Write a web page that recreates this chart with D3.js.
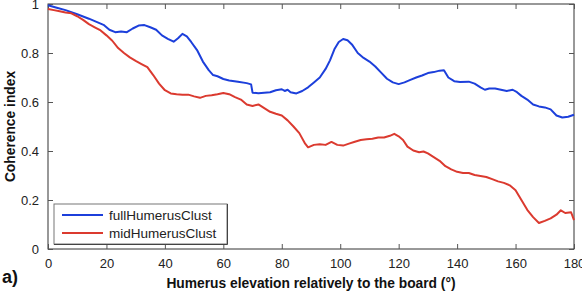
<!DOCTYPE html>
<html><head><meta charset="utf-8">
<script src="https://cdn.jsdelivr.net/npm/d3@7"></script>
<style>body{margin:0;background:#fff}svg{display:block}</style>
</head><body>
<script>
const fullX = [0,3,6,10,14,17,19,21,23,25,27,29,31,33,35,37,39,41,43,44.5,46,47.5,49,51,53,55,56.5,58,60,62,65,68,69.5,70,72,74,76,78,80,81,82,83,85,87,89,91,93,95,96.5,98,99.5,101,102.5,104,106,108,110,112,114,116,118,120,122,124,126,128,130,132,134,135.5,137,139,141,144,146,148,149.5,151,153,155,157,159,160.5,162,164,166,168,170,172,174,176,178,180];
const fullY = [0.995,0.985,0.975,0.958,0.94,0.925,0.915,0.895,0.885,0.888,0.885,0.9,0.912,0.914,0.905,0.895,0.872,0.858,0.846,0.86,0.878,0.868,0.845,0.812,0.765,0.73,0.71,0.705,0.694,0.688,0.683,0.677,0.672,0.638,0.636,0.638,0.64,0.648,0.652,0.645,0.65,0.64,0.635,0.645,0.66,0.68,0.7,0.735,0.77,0.815,0.845,0.857,0.852,0.835,0.8,0.78,0.765,0.745,0.72,0.695,0.68,0.673,0.68,0.69,0.7,0.708,0.718,0.722,0.728,0.73,0.7,0.685,0.682,0.683,0.675,0.66,0.65,0.655,0.655,0.65,0.645,0.65,0.64,0.625,0.61,0.59,0.582,0.578,0.57,0.545,0.537,0.54,0.548];
const midX = [0,2,4,6,8,10,12,14,16,18,20,22,24,26,28,30,32,34,36,38,40,42,44,46,48,50,52,54,56,58,60,62,64,66,68,70,72,74,76,78,80,82,84,86,88,89,91,93,95,97,99,101,103,105,107,109,111,113,115,117,118.5,120,121.5,123,125,127,128.5,130,132,134,136,138,140,142,144,146,148,150,152,154,156,158,160,162,164,166,168,170,172,174,175.5,177,179,180];
const midY = [0.98,0.975,0.97,0.965,0.962,0.95,0.935,0.918,0.905,0.892,0.872,0.85,0.82,0.8,0.782,0.768,0.755,0.742,0.71,0.675,0.648,0.635,0.632,0.63,0.63,0.623,0.617,0.625,0.628,0.632,0.637,0.632,0.62,0.61,0.59,0.584,0.59,0.575,0.56,0.552,0.545,0.525,0.5,0.473,0.43,0.415,0.425,0.428,0.425,0.437,0.425,0.422,0.43,0.438,0.445,0.448,0.45,0.455,0.455,0.462,0.47,0.46,0.445,0.418,0.402,0.395,0.398,0.39,0.375,0.36,0.338,0.325,0.315,0.31,0.31,0.302,0.298,0.294,0.285,0.276,0.27,0.26,0.24,0.2,0.16,0.13,0.106,0.115,0.125,0.14,0.158,0.147,0.15,0.118];
const xTicks = [0,20,40,60,80,100,120,140,160,180];
const yTicks = [0,0.2,0.4,0.6,0.8,1];
const seriesNames = ["fullHumerusClust","midHumerusClust"];
const seriesColors = ["#1c3fdb","#db3a2f"];

const W=582,H=300, L=48, R=574, T=4, B=249;
const svg = d3.select("body").append("svg").attr("width",W).attr("height",H)
  .style("font-family","'Liberation Sans', Arial, sans-serif");
const x = d3.scaleLinear().domain([0,180]).range([L,R]);
const y = d3.scaleLinear().domain([0,1]).range([B,T]);

// frame
svg.append("rect").attr("x",L).attr("y",T).attr("width",R-L).attr("height",B-T)
  .attr("fill","#fff").attr("stroke","#333").attr("stroke-width",1);

const tl=5;
const gb = svg.append("g").attr("transform",`translate(0,${B})`)
  .call(d3.axisBottom(x).tickValues(xTicks).tickSizeInner(-tl).tickSizeOuter(0).tickPadding(10).tickFormat(d3.format("d")));
const gt = svg.append("g").attr("transform",`translate(0,${T})`)
  .call(d3.axisTop(x).tickValues(xTicks).tickSizeInner(-tl).tickSizeOuter(0).tickFormat(""));
const gl = svg.append("g").attr("transform",`translate(${L},0)`)
  .call(d3.axisLeft(y).tickValues(yTicks).tickSizeInner(-tl).tickSizeOuter(0).tickPadding(9).tickFormat(d=>d===0||d===1?String(d):d3.format(".1f")(d)));
const gr = svg.append("g").attr("transform",`translate(${R},0)`)
  .call(d3.axisRight(y).tickValues(yTicks).tickSizeInner(-tl).tickSizeOuter(0).tickFormat(""));
[gb,gt,gl,gr].forEach(g=>{
  g.select(".domain").remove();
  g.selectAll("line").attr("stroke","#555");
  g.selectAll("text").attr("fill","#222").style("font-size","13px").style("font-family","'Liberation Sans', Arial, sans-serif");
});

const line = d3.line().x(d=>x(d[0])).y(d=>y(d[1]));
const data = [d3.zip(fullX,fullY), d3.zip(midX,midY)];
svg.append("g").selectAll("path").data(data).join("path")
  .attr("d",line).attr("fill","none")
  .attr("stroke",(d,i)=>seriesColors[i]).attr("stroke-width",2).attr("stroke-linejoin","round");

// legend
const lg = svg.append("g");
lg.append("rect").attr("x",54).attr("y",204).attr("width",173).attr("height",40)
  .attr("fill","#fff").attr("stroke","#777").attr("stroke-width",1);
lg.append("path").attr("d","M54,244.5H227.5V204").attr("fill","none").attr("stroke","#444");
seriesNames.forEach((n,i)=>{
  const yy = 215 + i*18;
  lg.append("line").attr("x1",62).attr("x2",103).attr("y1",yy).attr("y2",yy)
    .attr("stroke",seriesColors[i]).attr("stroke-width",2);
  lg.append("text").attr("x",109).attr("y",yy+4.5).text(n)
    .style("font-size","13.5px").attr("fill","#222");
});

// titles
svg.append("text").attr("x",311).attr("y",288).attr("text-anchor","middle")
  .style("font-size","13.8px").style("font-weight","bold").attr("fill","#111")
  .text("Humerus elevation relatively to the board (°)");
svg.append("text").attr("transform",`translate(15,${(T+B)/2}) rotate(-90)`).attr("text-anchor","middle")
  .style("font-size","13.8px").style("font-weight","bold").attr("fill","#111")
  .text("Coherence index");
svg.append("text").attr("x",2).attr("y",283).style("font-size","18px").style("font-weight","bold").attr("fill","#111").text("a)");
</script>
</body></html>
